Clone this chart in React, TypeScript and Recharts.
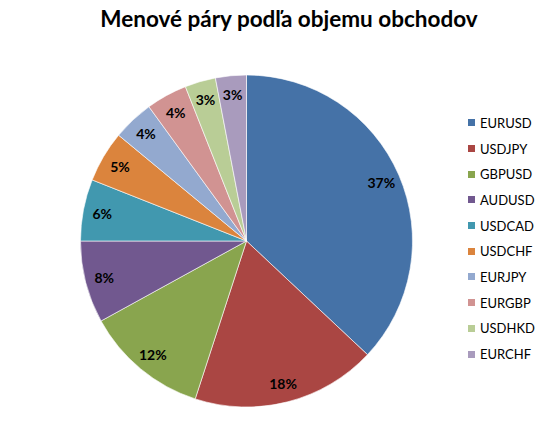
import React from 'react';
import { PieChart, Pie, Cell, Legend } from 'recharts';

// currency pairs and their share of traded volume (%)
const pairs = ['EURUSD', 'USDJPY', 'GBPUSD', 'AUDUSD', 'USDCAD', 'USDCHF', 'EURJPY', 'EURGBP', 'USDHKD', 'EURCHF'];
const shares = [37, 18, 12, 8, 6, 5, 4, 4, 3, 3];
const colors = ['#4572A7', '#AA4643', '#89A54E', '#71588F', '#4198AF', '#DB843D', '#93A9CF', '#D19392', '#B9CD96', '#A99BBD'];

const data = pairs.map((name, i) => ({ name, value: shares[i] }));
const total = shares.reduce((a, b) => a + b, 0);

const RADIAN = Math.PI / 180;

const renderLabel = (props: any) => {
    const { cx, cy, midAngle, outerRadius, value } = props;
    const r = outerRadius * 0.885;
    const x = cx + r * Math.cos(-midAngle * RADIAN);
    const y = cy + r * Math.sin(-midAngle * RADIAN);
    return (
        <text x={x} y={y} textAnchor="middle" dominantBaseline="central" fill="#000" fontSize={14} fontWeight="bold" fontFamily="Lato, sans-serif">
            {Math.round((value / total) * 100)}%
        </text>
    );
};

const renderLegend = () => (
    <div style={{ fontFamily: 'Lato, sans-serif', fontSize: 13, color: '#000' }}>
        {pairs.map((p, i) => (
            <div key={p} style={{ height: 25.7, display: 'flex', alignItems: 'center' }}>
                <span style={{ width: 7, height: 7, background: colors[i], marginRight: 5, display: 'inline-block' }} />
                {p}
            </div>
        ))}
    </div>
);

const App: React.FC = () => {
    return (
        <div style={{ position: 'absolute', left: 0, top: 0, width: 558, height: 422, background: '#fff' }}>
            <div style={{ position: 'absolute', left: 0, width: 578, top: 5, textAlign: 'center', fontFamily: 'Lato, sans-serif', fontWeight: 'bold', fontSize: 22.5, color: '#000' }}>
                Menové páry podľa objemu obchodov
            </div>
            <PieChart width={558} height={422} margin={{ top: 0, right: 0, bottom: 0, left: 0 }}>
                <Pie
                    data={data}
                    dataKey="value"
                    nameKey="name"
                    cx={246.5}
                    cy={241}
                    outerRadius={166}
                    startAngle={90}
                    endAngle={-270}
                    label={renderLabel}
                    labelLine={false}
                    stroke="#fff"
                    strokeWidth={0.6}
                    isAnimationActive={false}
                >
                    {data.map((d, i) => (
                        <Cell key={d.name} fill={colors[i]} />
                    ))}
                </Pie>
                <Legend content={renderLegend} layout="vertical" wrapperStyle={{ position: 'absolute', left: 468, top: 110, width: 90 }} />
            </PieChart>
        </div>
    );
};

export default App;
